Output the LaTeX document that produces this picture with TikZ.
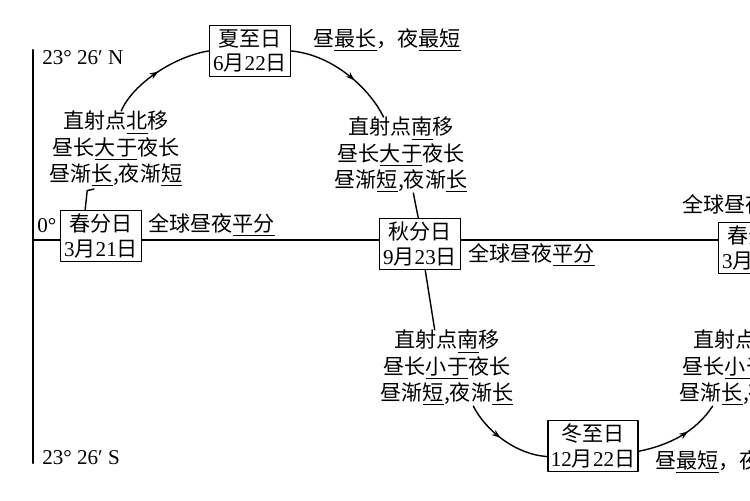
\documentclass[tikz,border=0pt]{standalone}
\usepackage{fontspec}
\setmainfont{Liberation Serif}
\newfontfamily\cjk{Noto Sans CJK SC}
\usetikzlibrary{arrows.meta,decorations.markings}
\tikzset{
  daybox/.style={draw, line width=1pt, fill=white, align=center, inner sep=1.5pt,
    minimum width=46pt, minimum height=29pt,
    font=\cjk\fontsize{12}{14}\selectfont},
  note/.style={align=center, inner sep=0pt, font=\cjk\fontsize{12}{15}\selectfont},
  remark/.style={inner sep=0pt, font=\cjk\fontsize{12}{14}\selectfont},
  lat/.style={inner sep=0pt, font=\fontsize{12}{14}\selectfont},
  path arrow/.style={thick, postaction={decorate}, decoration={markings,
    mark=at position #1 with {\arrow{Stealth[length=5pt,width=3.6pt]}}}},
  path arrow/.default=0.5
}
\newcommand\digits[1]{{\rmfamily #1}}

\begin{document}
\begin{tikzpicture}[x=0.02cm, y=-0.02cm, line cap=round, line join=round]
  \useasboundingbox (0,0) rectangle (750,500);

  % latitude axis and the equator (pixel units, y downwards)
  \coordinate (NT) at (33,50);
  \coordinate (ST) at (33,463);
  \coordinate (EqW) at (33,240);
  \coordinate (EqE) at (750,240);
  \draw[line width=1.2pt] (NT) -- (ST);
  \draw[thick] (EqW) -- (EqE);

  \node[lat, anchor=west] (latN) at (42,58) {23° 26′ N};
  \node[lat, anchor=west] (latS) at (42,458) {23° 26′ S};
  \node[lat, anchor=west] (lat0) at (37,226) {0°};

  % the solstices and equinoxes
  \node[daybox] (spring) at (101,236) {春分日\\\digits{3}月\digits{21}日};
  \node[daybox] (summer) at (250,51) {夏至日\\\digits{6}月\digits{22}日};
  \node[daybox] (autumn) at (420,244) {秋分日\\\digits{9}月\digits{23}日};
  \node[daybox] (winter) at (593,446) {冬至日\\\digits{12}月\digits{22}日};
  \node[daybox] (spring2) at (759,248) {春分日\\\digits{3}月\digits{21}日};

  % what happens on those days
  \node[remark, anchor=west] (eqA) at (148,225) {全球昼夜\underline{平分}};
  \node[remark, anchor=west] (eqB) at (468,255) {全球昼夜\underline{平分}};
  \node[remark, anchor=west] (eqC) at (682,204) {全球昼夜平分};
  \node[remark, anchor=west] (longest) at (313,40) {昼\underline{最长}，夜\underline{最短}};
  \node[remark, anchor=west] (shortest) at (655,462) {昼\underline{最短}，夜最长};

  % in between
  \node[note] (nl) at (116,149)
    {直射点\underline{北}移\\昼长\underline{大于}夜长\\昼渐\underline{长},夜渐\underline{短}};
  \node[note] (sm) at (401,155)
    {直射点\underline{南}移\\昼长\underline{大于}夜长\\昼渐\underline{短},夜渐\underline{长}};
  \node[note] (sb) at (447,368)
    {直射点\underline{南}移\\昼长\underline{小于}夜长\\昼渐\underline{短},夜渐\underline{长}};
  \node[note] (nr) at (746,368)
    {直射点北移\\昼长\underline{小于}夜长\\昼渐\underline{长},夜渐短};

  % the path of the direct point
  \coordinate (nlFoot) at (94,189);
  \draw[thick] ([xshift=-9pt]spring.north) -- ++(2,-19) -- (nlFoot);
  \draw[path arrow] ([xshift=3pt]nl.north) .. controls +(12,-28) and +(-33,5) .. (summer.west);
  \draw[path arrow=0.6] (summer.east) .. controls +(43,4) and +(-13,-27) .. ([xshift=-10pt]sm.north);
  \draw[thick] ([xshift=7pt]sm.south) -- ([xshift=-1pt]autumn.north);
  \draw[thick] ([xshift=3pt]autumn.south) -- ([xshift=-7pt]sb.north);
  \draw[path arrow=0.45] ([xshift=15pt]sb.south) .. controls +(12,24) and +(-32,-2) .. ([yshift=-6pt]winter.west);
  \draw[path arrow=0.6] ([yshift=-3pt]winter.east) .. controls +(30,-6) and +(-17,26) .. ([xshift=-19pt]nr.south);
\end{tikzpicture}
\end{document}
